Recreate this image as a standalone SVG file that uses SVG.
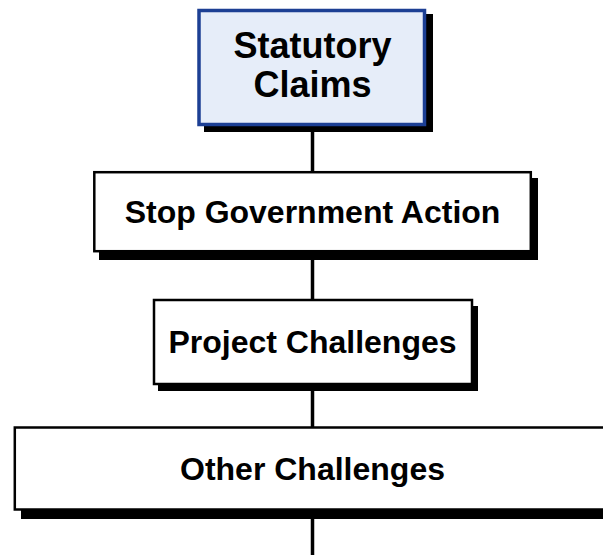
<svg xmlns="http://www.w3.org/2000/svg" width="603" height="555" viewBox="0 0 603 555">
<style>
.shadow{fill:#000}
.box{fill:#fff;stroke:#000;stroke-width:2.5}
.top{fill:#E6EDF9;stroke:#1C3F94;stroke-width:3.5}
.lbl{font-family:"Liberation Sans",Arial,sans-serif;font-weight:bold;fill:#000;text-anchor:middle}
.conn{stroke:#000;stroke-width:3.5;fill:none}
</style>
<g id="connectors">
<line class="conn" x1="312.5" y1="124" x2="312.5" y2="555"/>
</g>
<g id="statutory-claims">
<rect class="shadow" x="204" y="14" width="229" height="118"/>
<rect class="top" x="199" y="10.5" width="225.5" height="114"/>
<text class="lbl" x="312.5" y="58" font-size="36">Statutory</text>
<text class="lbl" x="312.5" y="97" font-size="36">Claims</text>
</g>
<g id="stop-government-action">
<rect class="shadow" x="99" y="178" width="439" height="82"/>
<rect class="box" x="94.3" y="172.2" width="436.5" height="79"/>
<text class="lbl" x="312.5" y="222.5" font-size="32">Stop Government Action</text>
</g>
<g id="project-challenges">
<rect class="shadow" x="158" y="306" width="320" height="85"/>
<rect class="box" x="154" y="300" width="318" height="84"/>
<text class="lbl" x="312.5" y="352.5" font-size="32">Project Challenges</text>
</g>
<g id="other-challenges">
<rect class="shadow" x="21" y="434" width="600" height="85"/>
<rect class="box" x="14.8" y="427.5" width="600" height="82"/>
<text class="lbl" x="312.5" y="480" font-size="32">Other Challenges</text>
</g>
</svg>
